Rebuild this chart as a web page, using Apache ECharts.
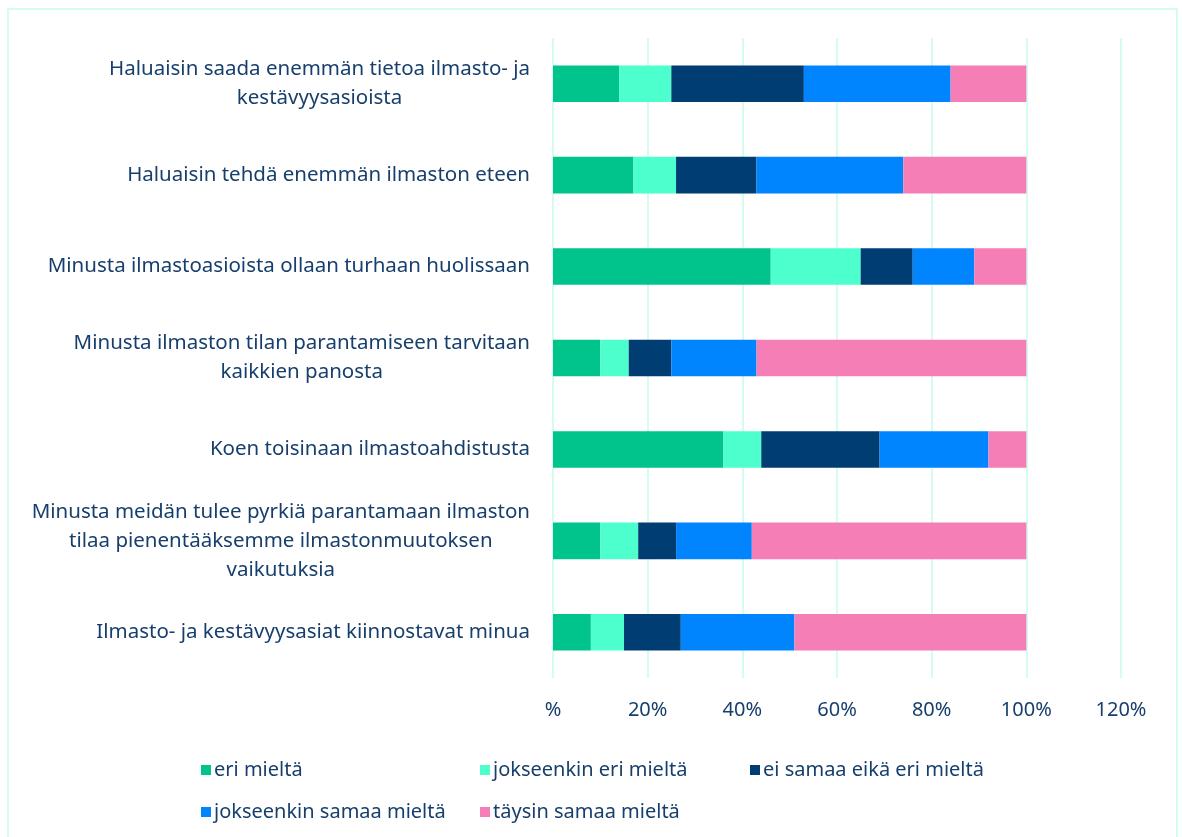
<!DOCTYPE html>
<html>
<head>
<meta charset="utf-8">
<script src="https://cdn.jsdelivr.net/npm/echarts@6/dist/echarts.min.js"></script>
<style>
  html, body { margin: 0; padding: 0; background: #fff; }
  #chart { width: 1182px; height: 837px; }
</style>
</head>
<body>
<div id="chart"></div>
<script>
const categories = [
  "Haluaisin saada enemmän tietoa ilmasto- ja\nkestävyysasioista",
  "Haluaisin tehdä enemmän ilmaston eteen",
  "Minusta ilmastoasioista ollaan turhaan huolissaan",
  "Minusta ilmaston tilan parantamiseen tarvitaan\nkaikkien panosta",
  "Koen toisinaan ilmastoahdistusta",
  "Minusta meidän tulee pyrkiä parantamaan ilmaston\ntilaa pienentääksemme ilmastonmuutoksen\nvaikutuksia",
  "Ilmasto- ja kestävyysasiat kiinnostavat minua"
];
const seriesNames = [
  "eri mieltä",
  "jokseenkin eri mieltä",
  "ei samaa eikä eri mieltä",
  "jokseenkin samaa mieltä",
  "täysin samaa mieltä"
];
const eriMielta = [14, 17, 46, 10, 36, 10, 8];
const jokseenkinEri = [11, 9, 19, 6, 8, 8, 7];
const eiSamaaEikaEri = [28, 17, 11, 9, 25, 8, 12];
const jokseenkinSamaa = [31, 31, 13, 18, 23, 16, 24];
const taysinSamaa = [16, 26, 11, 57, 8, 58, 49];
const colors = ["#00c48c", "#4dffcc", "#003d73", "#0085ff", "#f47eb5"];

const textColor = "#173f6d";
const gridColor = "#d6fbef";
const font = "Noto Sans";

const values = [eriMielta, jokseenkinEri, eiSamaaEikaEri, jokseenkinSamaa, taysinSamaa];

// legend items sit in fixed columns, like the original
const legendPos = [
  { left: 196, top: 755 },
  { left: 475, top: 755 },
  { left: 745, top: 755 },
  { left: 196, top: 797 },
  { left: 475, top: 797 }
];

var myChart = echarts.init(document.getElementById("chart"));
myChart.setOption({
  backgroundColor: "#fff",
  animation: false,
  graphic: [
    {
      type: "rect",
      shape: { x: 8, y: 9, width: 1169, height: 840 },
      style: { fill: "none", stroke: gridColor, lineWidth: 2 }
    }
  ],
  grid: { left: 553, right: 61, top: 38, bottom: 159 },
  legend: legendPos.map(function (p, i) {
    return {
      left: p.left,
      top: p.top,
      data: [seriesNames[i]],
      itemWidth: 10,
      itemHeight: 10,
      itemGap: 0,
      icon: "rect",
      textStyle: { color: textColor, fontSize: 20, fontFamily: font, padding: [0, 0, 0, -2] }
    };
  }),
  xAxis: {
    type: "value",
    min: 0,
    max: 120,
    interval: 20,
    axisLine: { show: false },
    axisTick: { show: false },
    splitLine: { lineStyle: { color: gridColor, width: 2 } },
    axisLabel: {
      color: textColor,
      fontSize: 20,
      fontFamily: font,
      margin: 22,
      formatter: function (v) { return v === 0 ? "%" : v + "%"; }
    }
  },
  yAxis: {
    type: "category",
    inverse: true,
    data: categories,
    axisLine: { show: false },
    axisTick: { show: false },
    axisLabel: {
      margin: 23,
      formatter: function (v) {
        return v.split("\n").map(function (l) { return "{c|" + l + "}"; }).join("\n");
      },
      rich: {
        c: { color: textColor, fontSize: 20.5, fontFamily: font, align: "center", lineHeight: 29 }
      }
    }
  },
  series: values.map(function (arr, i) {
    return {
      name: seriesNames[i],
      type: "bar",
      stack: "total",
      barWidth: "40%",
      data: arr,
      itemStyle: { color: colors[i] }
    };
  })
});
</script>
</body>
</html>
